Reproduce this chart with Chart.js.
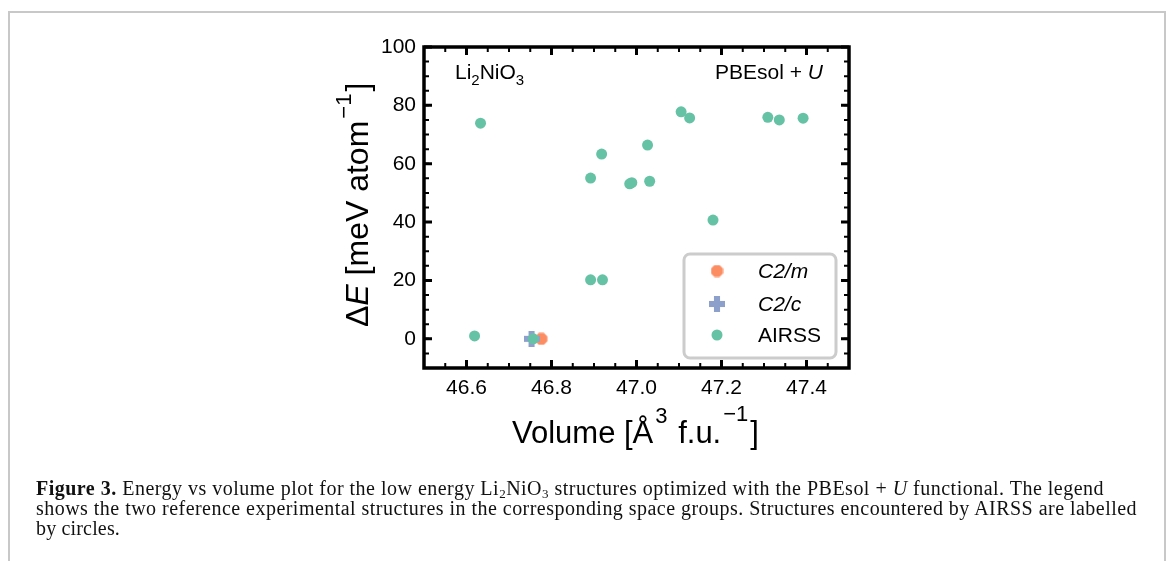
<!DOCTYPE html>
<html>
<head>
<meta charset="utf-8">
<script src="https://cdn.jsdelivr.net/npm/chart.js@4.4.0/dist/chart.umd.min.js"></script>
<style>
    body { margin: 0; background: #fff; width: 1166px; height: 561px; overflow: hidden; position: relative; }
    #frame { position: absolute; left: 8px; top: 11px; width: 1154px; height: 600px; border: 2px solid #c8c8c8; border-bottom: none; }
    #chart-wrap { position: absolute; left: 0; top: 0; width: 1166px; height: 561px; }
    #caption { position: absolute; left: 36px; top: 478px; font-family: 'Liberation Serif', 'Times New Roman', serif; font-size: 20px; line-height: 20px; color: #111; white-space: nowrap; }
    #caption .ln { display: inline-block; }
    #caption sub { font-size: 13px; vertical-align: -3px; line-height: 0; }
</style>
</head>
<body>
<div id="frame"></div>
<div id="chart-wrap"><canvas id="evChart" width="1166" height="561"></canvas></div>
<div id="caption">
    <div class="ln" data-w="1068"><b>Figure 3.</b> Energy vs volume plot for the low energy Li<sub>2</sub>NiO<sub>3</sub> structures optimized with the PBEsol + <i>U</i> functional. The legend</div><br>
    <div class="ln" data-w="1101">shows the two reference experimental structures in the corresponding space groups. Structures encountered by AIRSS are labelled</div><br>
    <div class="ln" data-w="84">by circles.</div>
</div>
<script>
// datos
const c2mVolume = [46.776];
const c2mEnergy = [0.0];
const c2cVolume = [46.753];
const c2cEnergy = [0.0];
const airssVolume = [46.633, 46.619, 46.757, 46.892, 46.918, 46.892, 46.920, 46.984, 46.989, 47.026, 47.031, 47.105, 47.125, 47.180, 47.309, 47.336, 47.392];
const airssEnergy = [73.9, 1.0, 0.0, 55.1, 63.3, 20.2, 20.2, 53.1, 53.5, 66.4, 54.0, 77.8, 75.7, 40.7, 75.9, 75.0, 75.6];

const xTicks = [46.6, 46.8, 47.0, 47.2, 47.4];
const yTicks = [0, 20, 40, 60, 80, 100];
const xRange = [46.5, 47.5];
const yRange = [-10, 100];

const colC2m = '#fc8d62';
const colC2c = '#8da0cb';
const colAirss = '#66c2a5';

Chart.defaults.font.family = "'Liberation Sans', Arial, sans-serif";
Chart.defaults.color = '#000';

// ajustar el ancho de cada linea del pie de figura
document.querySelectorAll('#caption .ln').forEach(el => {
    const target = parseFloat(el.dataset.w);
    const n = el.textContent.length;
    const w = el.getBoundingClientRect().width;
    el.style.letterSpacing = ((target - w) / n).toFixed(3) + 'px';
});

function toPts(xs, ys) {
    return xs.map((x, i) => ({ x: x, y: ys[i] }));
}

// marcadores propios (octagono y cruz rellena)
function makeMarker(kind, color, size) {
    const c = document.createElement('canvas');
    c.width = size; c.height = size;
    const g = c.getContext('2d');
    g.fillStyle = color;
    const m = size / 2;
    g.beginPath();
    if (kind === 'octagon') {
        for (let i = 0; i < 8; i++) {
            const a = Math.PI / 8 + i * Math.PI / 4;
            const px = m + m * Math.cos(a), py = m + m * Math.sin(a);
            if (i === 0) g.moveTo(px, py); else g.lineTo(px, py);
        }
        g.closePath();
        g.fill();
    } else {
        const w = size * 0.38;
        g.fillRect(m - w / 2, 0, w, size);
        g.fillRect(0, m - w / 2, size, w);
    }
    return c;
}

const octMarker = makeMarker('octagon', colC2m, 13);
const plusMarker = makeMarker('plus', colC2c, 16);

function drawRuns(ctx, x, y, runs) {
    let cx = x;
    runs.forEach(r => {
        ctx.font = (r.italic ? 'italic ' : '') + r.size + "px 'Liberation Sans', Arial, sans-serif";
        ctx.fillText(r.t, cx, y + (r.dy || 0));
        cx += ctx.measureText(r.t).width + (r.gap || 0);
    });
}

const framePlugin = {
    id: 'framePlugin',
    afterDraw(chart) {
        const ctx = chart.ctx;
        const a = chart.chartArea;
        const xs = chart.scales.x, ys = chart.scales.y;
        ctx.save();
        ctx.strokeStyle = '#000';
        ctx.fillStyle = '#000';

        // ticks menores y mayores hacia dentro en los cuatro lados
        const drawX = (v, len, w) => {
            const px = xs.getPixelForValue(v);
            ctx.lineWidth = w;
            ctx.beginPath();
            ctx.moveTo(px, a.bottom); ctx.lineTo(px, a.bottom - len);
            ctx.moveTo(px, a.top); ctx.lineTo(px, a.top + len);
            ctx.stroke();
        };
        const drawY = (v, len, w) => {
            const py = ys.getPixelForValue(v);
            ctx.lineWidth = w;
            ctx.beginPath();
            ctx.moveTo(a.left, py); ctx.lineTo(a.left + len, py);
            ctx.moveTo(a.right, py); ctx.lineTo(a.right - len, py);
            ctx.stroke();
        };
        for (let i = 1; i < 20; i++) drawX(xRange[0] + i * 0.05, 5, 2);
        for (let v = -5; v < 100; v += 5) drawY(v, 5, 2);
        xTicks.forEach(v => drawX(v, 8, 3));
        yTicks.forEach(v => drawY(v, 8, 3));

        ctx.lineWidth = 3.5;
        ctx.strokeRect(a.left, a.top, a.right - a.left, a.bottom - a.top);

        // anotaciones
        ctx.textAlign = 'left';
        ctx.textBaseline = 'alphabetic';
        drawRuns(ctx, 455, 79, [
            { t: 'Li', size: 21 }, { t: '2', size: 15, dy: 6 },
            { t: 'NiO', size: 21 }, { t: '3', size: 15, dy: 6 }
        ]);
        ctx.font = "21px 'Liberation Sans', Arial, sans-serif";
        const wA = ctx.measureText('PBEsol + ').width;
        ctx.font = "italic 21px 'Liberation Sans', Arial, sans-serif";
        const wB = ctx.measureText('U').width;
        drawRuns(ctx, 823 - wA - wB, 79, [
            { t: 'PBEsol + ', size: 21 }, { t: 'U', size: 21, italic: true }
        ]);

        // leyenda
        ctx.fillStyle = '#fff';
        ctx.strokeStyle = '#cccccc';
        ctx.lineWidth = 3;
        ctx.beginPath();
        ctx.roundRect(684, 254, 152, 104, 6);
        ctx.fill();
        ctx.stroke();
        const rows = [271, 304, 335];
        ctx.drawImage(octMarker, 717 - 6.5, rows[0] - 6.5);
        ctx.drawImage(plusMarker, 717 - 8, rows[1] - 8);
        ctx.fillStyle = colAirss;
        ctx.beginPath(); ctx.arc(717, rows[2], 5.5, 0, Math.PI * 2); ctx.fill();
        ctx.fillStyle = '#000';
        ctx.textBaseline = 'middle';
        chart.data.datasets.forEach((ds, i) => {
            ctx.font = (ds.label === 'AIRSS' ? '' : 'italic ') + "21px 'Liberation Sans', Arial, sans-serif";
            ctx.fillText(ds.label, 758, rows[i] + 1);
        });

        // titulos de ejes
        ctx.textBaseline = 'alphabetic';
        drawRuns(ctx, 512, 443, [
            { t: 'Volume [Å', size: 31, gap: 2 },
            { t: '3', size: 22, dy: -20, gap: 2 },
            { t: ' f.u.', size: 31, gap: 2 },
            { t: '\u22121', size: 22, dy: -22, gap: 2 },
            { t: ']', size: 31 }
        ]);
        ctx.translate(368, 327);
        ctx.rotate(-Math.PI / 2);
        drawRuns(ctx, 0, 0, [
            { t: '\u0394', size: 32 },
            { t: 'E', size: 32, italic: true },
            { t: ' [meV atom', size: 32, gap: 2 },
            { t: '\u22121', size: 22, dy: -17, gap: 2 },
            { t: ']', size: 32 }
        ]);
        ctx.restore();
    }
};

const ctx = document.getElementById('evChart');
new Chart(ctx.getContext('2d'), {
    type: 'scatter',
    data: {
        datasets: [
            { label: 'C2/m', data: toPts(c2mVolume, c2mEnergy), pointStyle: octMarker, pointRadius: 6, order: 2 },
            { label: 'C2/c', data: toPts(c2cVolume, c2cEnergy), pointStyle: plusMarker, pointRadius: 8, order: 1 },
            { label: 'AIRSS', data: toPts(airssVolume, airssEnergy), pointStyle: 'circle', pointRadius: 5.5,
              backgroundColor: colAirss, borderColor: colAirss, borderWidth: 0, order: 0 }
        ]
    },
    options: {
        responsive: false,
        animation: false,
        layout: { padding: { left: 0, right: 317, top: 47, bottom: 153 } },
        plugins: { legend: { display: false }, tooltip: { enabled: false } },
        scales: {
            x: {
                type: 'linear', min: xRange[0], max: xRange[1],
                afterFit: s => { s.height = 40; },
                afterBuildTicks: s => { s.ticks = xTicks.map(v => ({ value: v })); },
                grid: { display: false, drawTicks: false },
                border: { display: false },
                ticks: { font: { size: 21 }, padding: 8, maxRotation: 0, callback: v => v.toFixed(1) }
            },
            y: {
                type: 'linear', min: yRange[0], max: yRange[1],
                afterFit: s => { s.width = 424; },
                afterBuildTicks: s => { s.ticks = yTicks.map(v => ({ value: v })); },
                grid: { display: false, drawTicks: false },
                border: { display: false },
                ticks: { font: { size: 21 }, padding: 8, callback: v => String(v) }
            }
        }
    },
    plugins: [framePlugin]
});
</script>
</body>
</html>
